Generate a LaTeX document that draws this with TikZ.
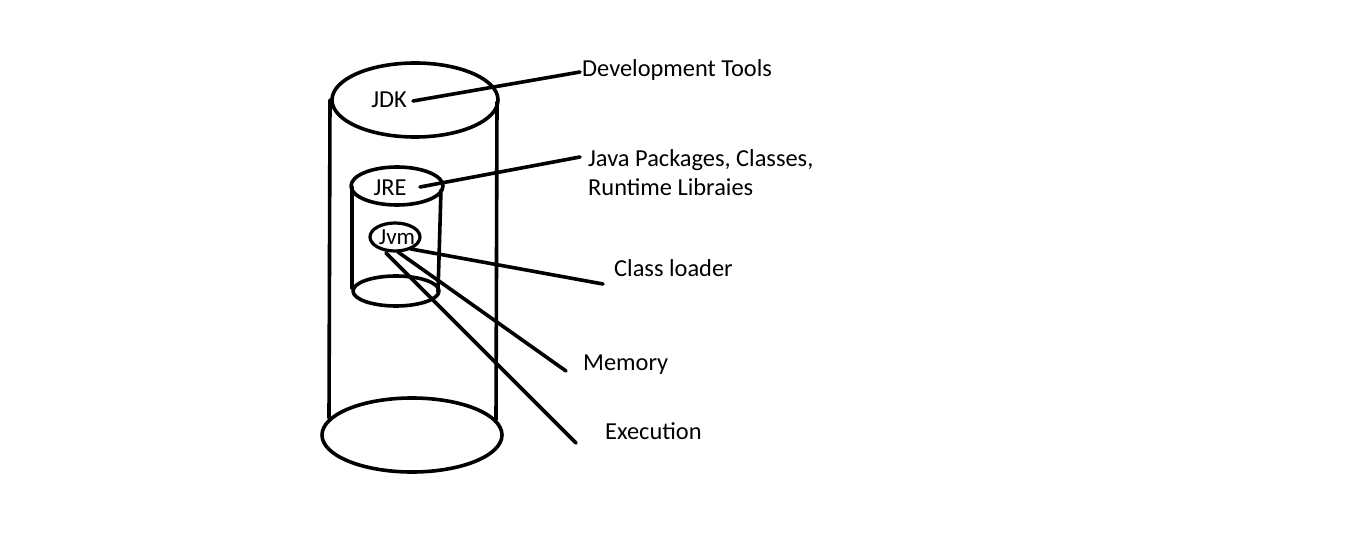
\documentclass[tikz,border=0pt]{standalone}
\usepackage{fontspec}
\setmainfont{Carlito}
\usetikzlibrary{shapes.geometric}
\begin{document}
\begin{tikzpicture}[x=1pt,y=-1pt,
  stroke/.style={line width=3.6pt,line cap=round,line join=round},
  lbl/.style={font=\fontsize{24.4pt}{28pt}\selectfont,inner sep=0pt,anchor=west},
  inlbl/.style={font=\fontsize{24.4pt}{28pt}\selectfont,inner sep=0pt}]
\useasboundingbox[fill=white] (0,0) rectangle (1352,553);
% outer cylinder (JDK)
\draw[stroke] (415,100) ellipse[x radius=83,y radius=37];
\draw[stroke] (330,100) -- (329,418);
\draw[stroke] (497,102) -- (496,420);
\draw[stroke,fill=white] (412,435) ellipse[x radius=90,y radius=37];
% inner cylinder (JRE)
\draw[stroke] (397,186) ellipse[x radius=46,y radius=19];
\draw[stroke] (352,187) -- (352,288);
\draw[stroke] (441,190) -- (438,292);
\draw[stroke] (396,291) ellipse[x radius=43,y radius=15];
% JVM
\draw[stroke,line width=3.2pt] (395,237) ellipse[x radius=25,y radius=14];
\node[inlbl] (jdk) at (389,100) {JDK};
\node[inlbl] (jre) at (390,188) {JRE};
\node[inlbl,font=\fontsize{23pt}{27pt}\selectfont] (jvm) at (397,237) {Jvm};
% labels
\node[lbl] (dev) at (582,70) {Development Tools};
\node[lbl] (pkg) at (588,160) {Java Packages, Classes,};
\node[lbl] (rt) at (588,187) {Runtime Libraies};
\node[lbl] (cl) at (614,268) {Class loader};
\node[lbl] (mem) at (583,365) {Memory};
\node[lbl] (exe) at (605,431) {Execution};
% connector end points
\coordinate (jdkA) at (413,101);
\coordinate (jreA) at (420,187);
\coordinate (clA) at (411,249);
\coordinate (memA) at (398,252);
\coordinate (exeA) at (386,253);
\coordinate (devB) at (580,72);
\coordinate (pkgB) at (580,157);
\coordinate (clB) at (603,284);
\coordinate (memB) at (566,371);
\coordinate (exeB) at (576,443);
\draw[stroke] (jdkA) -- (devB);
\draw[stroke] (jreA) -- (pkgB);
\draw[stroke] (clA) -- (clB);
\draw[stroke] (memA) -- (memB);
\draw[stroke] (exeA) -- (exeB);
\end{tikzpicture}
\end{document}
